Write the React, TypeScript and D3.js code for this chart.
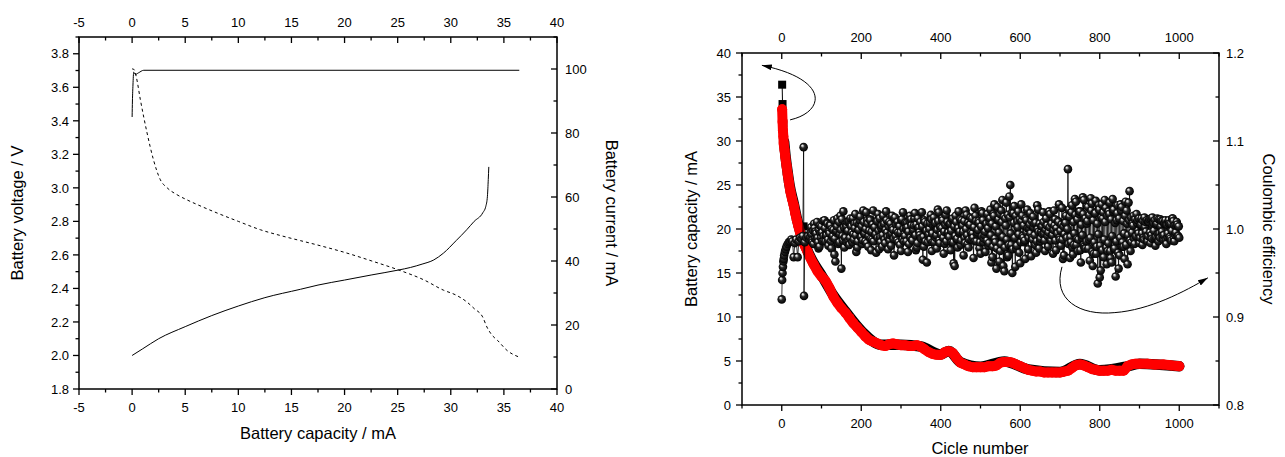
import React from 'react';
import * as d3 from 'd3';

const W = 1285;
const H = 457;
const FONT = '"Liberation Sans", Arial, Helvetica, sans-serif';

// ---------- Left panel data ----------
const chargeCapacity = [0, 1, 2.5, 5, 7.5, 10, 12.5, 15.85, 17.5, 20, 22.5, 25.1, 26.2, 27.3, 28.4, 29.3, 30.5, 31.5, 32.2, 33.0, 33.3, 33.45, 33.53, 33.58];
const chargeVoltage = [2.0, 2.04, 2.1, 2.172, 2.238, 2.295, 2.345, 2.395, 2.42, 2.45, 2.48, 2.51, 2.525, 2.545, 2.57, 2.61, 2.685, 2.75, 2.80, 2.85, 2.89, 2.95, 3.05, 3.125];

const dischargeCapacity = [0, 0.2, 0.4, 0.78, 1.41, 2.0, 2.66, 3.3, 4.2, 5.18, 6.5, 8.0, 10, 12.08, 14, 15.85, 17.7, 20, 22.5, 25.1, 27.5, 29.3, 30.5, 31.5, 32.2, 33.0, 33.4, 33.9, 34.4, 35.3, 36.45];
const dischargeVoltage = [3.71, 3.705, 3.66, 3.525, 3.327, 3.17, 3.048, 3.0, 2.96, 2.928, 2.89, 2.85, 2.8, 2.75, 2.715, 2.685, 2.655, 2.615, 2.565, 2.51, 2.45, 2.39, 2.36, 2.32, 2.28, 2.23, 2.17, 2.12, 2.09, 2.03, 1.99];

const currentCapacity = [0, 0.03, 0.08, 0.15, 0.3, 0.6, 1.1, 36.45];
const currentValues = [85, 90, 95, 99.0, 98.3, 98.8, 99.6, 99.6];

const leftXTicks = [-5, 0, 5, 10, 15, 20, 25, 30, 35, 40];
const leftXMinor = [-2.5, 2.5, 7.5, 12.5, 17.5, 22.5, 27.5, 32.5, 37.5];
const leftVTicks = [1.8, 2.0, 2.2, 2.4, 2.6, 2.8, 3.0, 3.2, 3.4, 3.6, 3.8];
const leftVMinor = [1.9, 2.1, 2.3, 2.5, 2.7, 2.9, 3.1, 3.3, 3.5, 3.7, 3.9];
const leftITicks = [0, 20, 40, 60, 80, 100];
const leftIMinor = [10, 30, 50, 70, 90, 110];

// ---------- Right panel data ----------
const capCycles = [1, 2, 3, 4, 5, 7, 9, 12, 15, 18, 22, 26, 30, 34, 38, 42, 46, 50, 55, 60, 65, 70, 80, 90, 100, 110, 120, 130, 140, 150, 160, 170, 180, 190, 200, 210, 220, 230, 240, 250, 260, 270, 280, 290, 300, 310, 320, 330, 340, 350, 360, 370, 380, 390, 400, 410, 420, 430, 440, 450, 460, 470, 480, 490, 500, 510, 520, 530, 540, 550, 560, 570, 580, 590, 600, 610, 620, 630, 640, 650, 660, 670, 680, 690, 700, 710, 720, 730, 740, 750, 760, 770, 780, 790, 800, 810, 820, 830, 840, 850, 860, 870, 880, 890, 900, 920, 940, 960, 980, 1000];
const capValues = [33.6, 32.2, 31.2, 30.5, 29.7, 29.0, 28.2, 27.2, 26.2, 25.3, 24.2, 23.4, 22.7, 21.8, 21.0, 20.3, 19.6, 19.0, 18.4, 17.9, 17.4, 16.9, 16.0, 15.2, 14.6, 14.1, 13.3, 12.3, 11.6, 11.0, 10.5, 9.9, 9.3, 8.8, 8.3, 7.8, 7.4, 7.2, 7.0, 6.8, 6.7, 6.9, 7.0, 6.9, 6.8, 6.8, 6.7, 6.7, 6.8, 6.6, 6.3, 6.0, 5.8, 5.7, 5.7, 6.0, 6.1, 5.9, 5.3, 4.8, 4.6, 4.4, 4.3, 4.3, 4.3, 4.3, 4.4, 4.4, 4.5, 4.8, 4.9, 4.9, 4.8, 4.6, 4.4, 4.2, 4.0, 3.9, 3.8, 3.8, 3.7, 3.7, 3.7, 3.7, 3.7, 3.8, 3.9, 4.2, 4.5, 4.6, 4.5, 4.3, 4.1, 4.0, 3.9, 3.9, 3.9, 4.0, 3.9, 3.9, 3.9, 4.4, 4.6, 4.7, 4.7, 4.7, 4.6, 4.6, 4.5, 4.4];

const disCycles = [1, 2, 3, 4, 6, 10, 15, 20, 30, 40, 50, 60, 80, 100, 130, 160, 200, 250, 300, 350, 400, 420, 450, 500, 560, 620, 700, 750, 800, 870, 900, 1000];
const disValues = [36.4, 34.2, 33.0, 32.0, 29.9, 28.1, 26.4, 24.9, 22.9, 20.8, 19.2, 18.05, 16.15, 14.75, 12.45, 10.65, 8.45, 6.85, 6.85, 6.65, 5.75, 6.15, 4.85, 4.35, 4.95, 4.05, 3.75, 4.65, 3.95, 4.4, 4.7, 4.4];
const disOutlierCycle = [55];
const disOutlierValue = [20.3];

const ceEarlyCycles = [0, 1, 2, 3, 4, 5, 6, 8, 10, 12, 15, 18, 21, 24, 27, 30, 33, 36, 40, 43, 46, 50, 53, 55, 56, 58, 62, 66];
const ceEarlyValues = [0.92, 0.942, 0.95, 0.957, 0.963, 0.966, 0.97, 0.974, 0.977, 0.98, 0.983, 0.985, 0.986, 0.988, 0.986, 0.968, 0.984, 0.988, 0.968, 0.986, 0.99, 0.989, 0.992, 1.093, 0.924, 0.985, 0.99, 0.992];

// cycles 70, 75, ..., 1000
const ceMainValues = [
  0.988, 0.994, 0.983, 0.997, 0.990, 0.980, 1.003, 0.992, 0.986, 1.006,
  0.995, 0.978, 0.999, 0.963, 1.012, 0.985, 0.955, 1.020, 0.990, 1.008,
  0.982, 1.003, 0.994, 1.017, 0.979, 1.006, 0.991, 1.021, 0.986, 1.010,
  0.998, 0.976, 1.021, 0.993, 1.009, 0.977, 1.001, 1.015, 0.984, 0.996,
  1.008, 0.981, 0.999, 1.013, 0.987, 1.004, 0.975, 1.019, 0.992, 1.007,
  0.983, 1.011, 0.996, 1.018, 0.979, 1.002, 0.990, 0.965, 1.008, 0.962,
  0.994, 1.016, 0.985, 1.005, 0.978, 1.019, 0.997, 1.010, 0.983, 1.021,
  0.992, 0.976, 1.012, 0.958, 0.988, 1.020, 0.982, 1.004, 0.990, 1.016,
  0.979, 1.013, 0.995, 1.024, 0.986, 1.009, 0.972, 1.018, 0.993, 1.006,
  0.981, 1.022, 0.968, 1.028, 0.955, 1.011, 0.975, 1.033, 0.952, 1.030,
  0.970, 1.050, 0.950, 1.026, 0.978, 1.020, 0.961, 1.015, 0.985, 1.010,
  0.977, 1.018, 0.990, 1.006, 0.973, 1.022, 0.986, 1.003, 0.995, 1.012,
  0.980, 1.017, 0.993, 1.021, 0.976, 1.009, 0.988, 1.024, 0.970, 1.015,
  1.068, 0.967, 1.027, 0.982, 1.031, 0.975, 1.020, 0.990, 1.033, 0.978,
  1.025, 0.964, 1.029, 0.972, 1.032, 0.938, 0.945, 1.028, 0.968, 1.024,
  0.975, 1.030, 0.962, 1.022, 0.946, 1.027, 0.970, 1.025, 0.980, 1.031,
  0.960, 1.043, 0.985, 1.015, 0.992, 1.010, 0.984, 1.012, 0.990, 1.008,
  0.986, 1.011, 0.993, 1.007, 0.981, 1.012, 0.995, 1.009, 0.988, 1.010,
  0.991, 1.006, 0.987, 1.009, 0.993, 1.005, 0.990,
];
const ceMainCycles = d3.range(70, 1001, 5);

// cycles 72.5, 77.5, ..., 997.5
const ceMidValues = [
  0.996, 0.985, 1.001, 0.989, 0.978, 0.995, 0.986, 1.010, 0.993, 0.981,
  1.004, 0.990, 0.971, 0.998, 0.983, 1.015, 0.992, 0.979, 1.003, 0.987,
  1.012, 0.985, 1.006, 0.974, 0.999, 1.014, 0.983, 0.995, 1.019, 0.980,
  1.010, 0.988, 1.002, 0.973, 1.017, 0.991, 0.980, 1.006, 1.020, 0.977,
  0.993, 1.015, 0.970, 1.005, 0.996, 0.982, 1.011, 0.986, 1.001, 0.974,
  1.015, 0.988, 1.004, 0.976, 1.012, 0.993, 1.019, 0.980, 0.998, 0.985,
  1.007, 0.975, 1.013, 0.990, 1.022, 0.984, 1.001, 0.972, 1.016, 0.996,
  1.006, 0.985, 0.961, 1.015, 0.979, 0.997, 1.010, 0.970, 1.021, 0.983,
  1.005, 0.988, 0.967, 1.015, 0.996, 0.978, 1.020, 0.985, 0.974, 1.017,
  1.008, 0.962, 1.017, 0.985, 1.025, 0.963, 1.021, 0.958, 1.012, 0.968,
  1.037, 0.982, 1.018, 0.957, 1.009, 0.973, 1.028, 0.990, 0.966, 1.022,
  1.001, 0.969, 1.014, 0.982, 1.027, 0.978, 0.997, 1.019, 0.975, 1.004,
  1.020, 0.987, 0.972, 1.011, 0.996, 1.028, 0.981, 0.966, 1.007, 0.990,
  1.022, 0.985, 0.971, 1.034, 0.989, 1.017, 0.962, 1.036, 0.978, 1.006,
  0.988, 1.035, 0.958, 1.018, 0.980, 1.027, 0.953, 1.012, 1.033, 0.960,
  1.020, 0.967, 1.034, 0.978, 1.010, 0.955, 1.028, 0.985, 0.966, 1.021,
  1.030, 0.975, 1.006, 0.983, 1.017, 0.995, 1.004, 0.982, 1.013, 0.991,
  1.009, 0.984, 1.013, 0.990, 1.005, 0.986, 1.011, 0.992, 1.006, 0.983,
  1.008, 0.989, 1.012, 0.986, 1.004, 0.992,
];
const ceMidCycles = d3.range(72.5, 1000, 5);

// cycles 71.25, 73.75, ..., 998.75 (dense core of the band)
const ceCoreValues = [
  0.991, 1.002, 0.987, 0.998, 1.006, 0.989, 0.995, 1.008, 0.985, 0.999, 1.004, 0.990, 0.996, 1.009, 0.986, 1.001, 0.993, 1.007, 0.988, 0.997,
  1.005, 0.986, 1.000, 0.992, 1.010, 0.989, 0.996, 1.003, 0.984, 1.008, 0.994, 0.999, 1.011, 0.987, 1.002, 0.991, 1.006, 0.985, 0.998, 1.009,
  0.990, 1.004, 0.996, 1.012, 0.988, 1.001, 0.993, 1.007, 0.986, 0.999, 1.010, 0.991, 1.003, 0.987, 1.008, 0.995, 1.000, 0.984, 1.006, 0.992,
  1.011, 0.989, 0.997, 1.005, 0.986, 1.002, 0.994, 1.009, 0.990, 0.998, 1.012, 0.985, 1.004, 0.993, 1.007, 0.988, 0.999, 1.010, 0.991, 1.003,
  0.987, 1.006, 0.995, 1.001, 0.989, 1.011, 0.992, 0.998, 1.008, 0.985, 1.003, 0.996, 1.010, 0.988, 1.000, 0.994, 1.007, 0.986, 1.002, 0.997,
  1.009, 0.990, 1.004, 0.987, 0.999, 1.012, 0.993, 1.005, 0.984, 1.001, 0.996, 1.008, 0.989, 1.003, 0.991, 1.010, 0.986, 0.998, 1.006, 0.992,
  1.000, 0.988, 1.011, 0.995, 1.004, 0.985, 1.007, 0.993, 0.999, 1.009, 0.987, 1.002, 0.994, 1.012, 0.990, 0.997, 1.005, 0.986, 1.008, 0.996,
  0.991, 1.006, 0.998, 1.010, 0.985, 1.003, 0.992, 1.008, 0.989, 1.001, 0.995, 1.011, 0.987, 1.004, 0.997, 1.009, 0.984, 1.000, 0.993, 1.007,
  0.988, 1.005, 0.996, 1.012, 0.990, 1.002, 0.986, 1.009, 0.994, 0.999, 1.007, 0.985, 1.003, 0.992, 1.010, 0.989, 0.997, 1.006, 0.987, 1.001,
  0.984, 1.012, 0.993, 1.006, 0.980, 1.015, 0.989, 1.003, 0.978, 1.010, 0.996, 1.017, 0.983, 1.008, 0.991, 1.014, 0.979, 1.004, 0.988, 1.016,
  0.982, 1.013, 0.995, 1.018, 0.977, 1.007, 0.990, 1.015, 0.981, 1.002, 0.994, 1.011, 0.985, 1.009, 0.992, 1.004, 0.987, 1.012, 0.996, 1.001,
  0.990, 1.005, 0.995, 1.009, 0.988, 1.002, 0.993, 1.007, 0.986, 1.000, 0.997, 1.006, 0.989, 1.003, 0.994, 1.008, 0.987, 0.999, 1.004, 0.992,
  0.996, 1.002, 0.989, 1.006, 0.993, 0.999, 1.004, 0.987, 1.001, 0.995, 1.008, 0.990, 0.998, 1.005, 0.988, 1.003, 0.994, 1.007, 0.991, 1.000,
  0.983, 1.014, 0.991, 1.019, 0.979, 1.008, 0.995, 1.016, 0.982, 1.011, 0.988, 1.020, 0.976, 1.005, 0.993, 1.017, 0.980, 1.012, 0.986, 1.009,
  0.978, 1.016, 0.990, 1.021, 0.974, 1.010, 0.985, 1.018, 0.972, 1.006, 0.994, 1.022, 0.981, 1.013, 0.976, 1.019, 0.988, 1.008, 0.979, 1.015,
  0.984, 1.017, 0.975, 1.011, 0.992, 1.020, 0.977, 1.007, 0.986, 1.018, 0.973, 1.012, 0.990, 1.021, 0.980, 1.009, 0.995, 1.015, 0.982, 1.006,
  0.993, 1.010, 0.987, 1.013, 0.996, 1.004, 0.989, 1.011, 0.992, 1.007, 0.998, 1.012, 0.990, 1.005, 0.995, 1.009, 0.988, 1.002, 0.997, 1.010,
  0.992, 1.008, 0.996, 1.012, 0.989, 1.004, 0.998, 1.010, 0.991, 1.006, 0.994, 1.011, 0.990, 1.003, 0.997, 1.009, 0.993, 1.007, 0.988, 1.005,
  0.995, 1.010, 0.991, 1.006, 0.998, 1.012, 0.989, 1.004, 0.996, 1.008, 0.992, 1.003,
];
const ceCoreCycles = d3.range(71.25, 1000, 2.5);

const rightXTicks = [0, 200, 400, 600, 800, 1000];
const rightXMinor = [-100, 100, 300, 500, 700, 900, 1100];
const rightCTicks = [0, 5, 10, 15, 20, 25, 30, 35, 40];
const rightCMinor = [2.5, 7.5, 12.5, 17.5, 22.5, 27.5, 32.5, 37.5];
const rightETicks = [0.8, 0.9, 1.0, 1.1, 1.2];
const rightEMinor = [0.85, 0.95, 1.05, 1.15];

// annotation arrows (in data units of right panel: cycle, capacity)
const arrowLeft = [[21, 32.4], [109, 33.3], [122, 37.0], [-50, 38.6]];
const arrowRight = [[705, 15.7], [680, 11.95], [750, 10.1], [838, 10.5], [926, 10.8], [1014, 12.9], [1072, 14.45]];

// ---------- helpers ----------
const TICK = 6;
const MINOR = 3.5;

function hTicks(scale: any, y: number, vals: number[], len: number, key: string) {
  return vals.map((v, i) => (
    <line key={key + i} x1={scale(v)} x2={scale(v)} y1={y} y2={y + len} stroke="#000" strokeWidth={1.3} />
  ));
}
function vTicks(scale: any, x: number, vals: number[], len: number, key: string) {
  return vals.map((v, i) => (
    <line key={key + i} x1={x} x2={x + len} y1={scale(v)} y2={scale(v)} stroke="#000" strokeWidth={1.3} />
  ));
}

export default function App() {
  const xL = d3.scaleLinear().domain([-5, 40]).range([79, 557]);
  const yV = d3.scaleLinear().domain([1.8, 3.9]).range([389, 37]);
  const yI = d3.scaleLinear().domain([0, 110]).range([389, 37]);

  const xR = d3.scaleLinear().domain([-100, 1100]).range([742, 1219]);
  const yC = d3.scaleLinear().domain([0, 40]).range([405, 53]);
  const yE = d3.scaleLinear().domain([0.8, 1.2]).range([405, 53]);

  const lineV = d3.line<number>().x((d, i) => xL(chargeCapacity[i])).y((d) => yV(d)).curve(d3.curveMonotoneX);
  const lineD = d3.line<number>().x((d, i) => xL(dischargeCapacity[i])).y((d) => yV(d)).curve(d3.curveMonotoneX);
  const lineI = d3.line<number>().x((d, i) => xL(currentCapacity[i])).y((d) => yI(d)).curve(d3.curveMonotoneX);

  const capLine = d3.line<number>().x((d, i) => xR(capCycles[i])).y((d) => yC(d)).curve(d3.curveMonotoneX);
  const disPts: [number, number][] = disCycles.map((c, i) => [c, disValues[i]]);
  const disBand = d3.line<[number, number]>().x((d) => xR(d[0])).y((d) => yC(d[1])).curve(d3.curveMonotoneX);
  const disThin = d3.line<[number, number]>().x((d) => xR(d[0])).y((d) => yC(d[1]));

  const cePts: [number, number][] = [
    ...ceEarlyCycles.map((c, i) => [c, ceEarlyValues[i]] as [number, number]),
    ...ceMainCycles.map((c, i) => [c, ceMainValues[i]] as [number, number]),
    ...ceMidCycles.map((c, i) => [c, ceMidValues[i]] as [number, number]),
    ...ceCoreCycles.map((c, i) => [c, ceCoreValues[i]] as [number, number]),
  ]
    .filter((d) => d[1] !== undefined)
    .sort((a, b) => a[0] - b[0]);
  const ceLine = d3.line<[number, number]>().x((d) => xR(d[0])).y((d) => yE(d[1]));

  const p = (pt: number[]) => `${xR(pt[0])},${yC(pt[1])}`;
  const arrowLPath = `M${p(arrowLeft[0])} C${p(arrowLeft[1])} ${p(arrowLeft[2])} ${p(arrowLeft[3])}`;
  const arrowRPath = `M${p(arrowRight[0])} C${p(arrowRight[1])} ${p(arrowRight[2])} ${p(arrowRight[3])} C${p(arrowRight[4])} ${p(arrowRight[5])} ${p(arrowRight[6])}`;

  const tickFs = 13;
  const titleFs = 16.5;

  return (
    <svg width={W} height={H} style={{ position: 'absolute', left: 0, top: 0, background: '#fff' }} fontFamily={FONT}>
      <defs>
        <radialGradient id="sphere" cx="50%" cy="50%" r="50%" fx="32%" fy="28%">
          <stop offset="0%" stopColor="#ffffff" />
          <stop offset="18%" stopColor="#c8c8c8" />
          <stop offset="45%" stopColor="#2a2a2a" />
          <stop offset="100%" stopColor="#000000" />
        </radialGradient>
        <marker id="arrowHead" viewBox="0 0 10 6" refX="10" refY="3" markerWidth="10" markerHeight="6" markerUnits="userSpaceOnUse" orient="auto">
          <path d="M0,0 L10,3 L0,6 z" fill="#000" />
        </marker>
      </defs>
      <rect x={0} y={0} width={W} height={H} fill="#fff" />

      {/* ================= LEFT PANEL ================= */}
      <g>
        <path d={lineD(dischargeVoltage) || ''} fill="none" stroke="#000" strokeWidth={1} strokeDasharray="3,3" />
        <path d={lineV(chargeVoltage) || ''} fill="none" stroke="#000" strokeWidth={1} />
        <path d={lineI(currentValues) || ''} fill="none" stroke="#000" strokeWidth={1} />

        <rect x={79} y={37} width={557 - 79} height={389 - 37} fill="none" stroke="#000" strokeWidth={1.5} />
        {hTicks(xL, 389, leftXTicks, TICK, 'lbx')}
        {hTicks(xL, 389, leftXMinor, MINOR, 'lbm')}
        {hTicks(xL, 37, leftXTicks, TICK, 'ltx')}
        {hTicks(xL, 37, leftXMinor, MINOR, 'ltm')}
        {vTicks(yV, 79, leftVTicks, -TICK, 'lly')}
        {vTicks(yV, 79, leftVMinor, -MINOR, 'llm')}
        {vTicks(yI, 557, leftITicks, -TICK, 'lry')}
        {vTicks(yI, 557, leftIMinor, -MINOR, 'lrm')}

        {leftXTicks.map((v, i) => (
          <text key={'lbl' + i} x={xL(v)} y={411.5} fontSize={tickFs} textAnchor="middle">{v}</text>
        ))}
        {leftXTicks.map((v, i) => (
          <text key={'ltl' + i} x={xL(v)} y={26.5} fontSize={tickFs} textAnchor="middle">{v}</text>
        ))}
        {leftVTicks.map((v, i) => (
          <text key={'lvl' + i} x={69} y={yV(v) + 4.7} fontSize={tickFs} textAnchor="end">{d3.format('.1f')(v)}</text>
        ))}
        {leftITicks.map((v, i) => (
          <text key={'lil' + i} x={565} y={yI(v) + 4.7} fontSize={tickFs} textAnchor="start">{v}</text>
        ))}

        <text x={318} y={439} fontSize={titleFs} textAnchor="middle">Battery capacity / mA</text>
        <text transform={`translate(17,213) rotate(-90)`} fontSize={titleFs} textAnchor="middle" dominantBaseline="central">Battery voltage / V</text>
        <text transform={`translate(612,213) rotate(90)`} fontSize={titleFs} textAnchor="middle" dominantBaseline="central">Battery current / mA</text>
      </g>

      {/* ================= RIGHT PANEL ================= */}
      <g>
        {/* discharge capacity (black squares) */}
        <path d={disThin(disPts) || ''} fill="none" stroke="#000" strokeWidth={1} />
        <path d={disBand(disPts.slice(4)) || ''} fill="none" stroke="#000" strokeWidth={10.5} strokeLinecap="round" />
        {disPts.slice(0, 5).map((d, i) => (
          <rect key={'sq' + i} x={xR(d[0]) - 4} y={yC(d[1]) - 4} width={8} height={8} fill="#000" />
        ))}
        {disOutlierCycle.map((c, i) => (
          <rect key={'sqo' + i} x={xR(c) - 4} y={yC(disOutlierValue[i]) - 4} width={8} height={8} fill="#000" />
        ))}
        {/* charge capacity (red circles) */}
        <path d={capLine(capValues) || ''} fill="none" stroke="#ff0000" strokeWidth={10} strokeLinecap="round" />
        {capCycles.map((c, i) => (
          <circle key={'rc' + i} cx={xR(c)} cy={yC(capValues[i])} r={5} fill="#ff0000" />
        ))}

        {/* coulombic efficiency */}
        <path d={ceLine(cePts) || ''} fill="none" stroke="#000" strokeWidth={0.8} />
        {cePts.map((d, i) => (
          <circle key={'ce' + i} cx={xR(d[0])} cy={yE(d[1])} r={4.3} fill="url(#sphere)" />
        ))}

        <path d={arrowLPath} fill="none" stroke="#000" strokeWidth={1} markerEnd="url(#arrowHead)" />
        <path d={arrowRPath} fill="none" stroke="#000" strokeWidth={1} markerEnd="url(#arrowHead)" />

        <rect x={742} y={53} width={1219 - 742} height={405 - 53} fill="none" stroke="#000" strokeWidth={1.5} />
        {hTicks(xR, 405, rightXTicks, TICK, 'rbx')}
        {hTicks(xR, 405, rightXMinor, MINOR, 'rbm')}
        {hTicks(xR, 53, rightXTicks, TICK, 'rtx')}
        {hTicks(xR, 53, rightXMinor, MINOR, 'rtm')}
        {vTicks(yC, 742, rightCTicks, -TICK, 'rly')}
        {vTicks(yC, 742, rightCMinor, -MINOR, 'rlm')}
        {vTicks(yE, 1219, rightETicks, -TICK, 'rry')}
        {vTicks(yE, 1219, rightEMinor, -MINOR, 'rrm')}

        {rightXTicks.map((v, i) => (
          <text key={'rbl' + i} x={xR(v)} y={428} fontSize={tickFs} textAnchor="middle">{v}</text>
        ))}
        {rightXTicks.map((v, i) => (
          <text key={'rtl' + i} x={xR(v)} y={41.7} fontSize={tickFs} textAnchor="middle">{v}</text>
        ))}
        {rightCTicks.map((v, i) => (
          <text key={'rcl' + i} x={731} y={yC(v) + 4.7} fontSize={tickFs} textAnchor="end">{v}</text>
        ))}
        {rightETicks.map((v, i) => (
          <text key={'rel' + i} x={1226} y={yE(v) + 4.7} fontSize={tickFs} textAnchor="start">{d3.format('.1f')(v)}</text>
        ))}

        <text x={980} y={454} fontSize={titleFs} textAnchor="middle">Cicle number</text>
        <text transform={`translate(691,229) rotate(-90)`} fontSize={titleFs} textAnchor="middle" dominantBaseline="central">Battery capacity / mA</text>
        <text transform={`translate(1269,229) rotate(90)`} fontSize={titleFs} textAnchor="middle" dominantBaseline="central">Coulombic efficiency</text>
      </g>
    </svg>
  );
}
